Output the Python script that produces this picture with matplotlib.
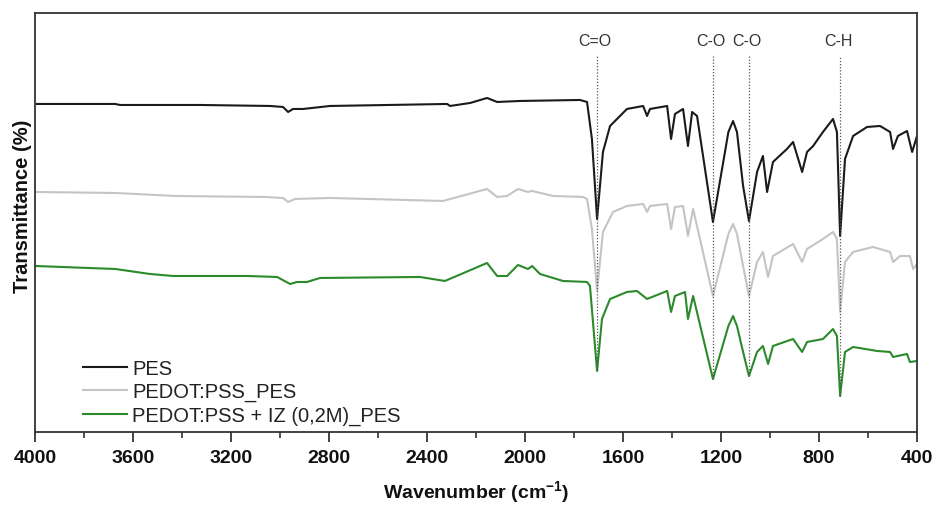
import numpy as np
import matplotlib
matplotlib.use("Agg")
import matplotlib.pyplot as plt

plt.rcParams["font.family"] = ["Liberation Sans", "DejaVu Sans"]
plt.rcParams["mathtext.fontset"] = "custom"
plt.rcParams["mathtext.rm"] = "Liberation Sans"
plt.rcParams["mathtext.bf"] = "Liberation Sans:bold"

# wavenumber (cm-1) and transmittance (arb. units, curves offset)
pes_wn = [4000, 3673, 3653, 3327, 3041, 2988, 2967, 2947, 2906, 2796, 2318, 2306, 2224, 2155, 2114,
          2020, 1776, 1747, 1727, 1706, 1682, 1653, 1584, 1518, 1502, 1490, 1420, 1404, 1388, 1355,
          1335, 1318, 1298, 1233, 1170, 1151, 1135, 1110, 1086, 1053, 1029, 1012, 988, 931, 906, 869,
          849, 824, 784, 743, 727, 714, 694, 661, 604, 551, 510, 498, 478, 441, 420, 400]
pes_t = [328, 328, 327, 327, 326, 325, 320, 323, 323, 326, 328, 326, 329, 334, 330,
         331, 332, 330, 293, 213, 280, 306, 323, 326, 316, 323, 326, 293, 318, 323,
         286, 320, 316, 210, 300, 311, 300, 246, 211, 260, 276, 240, 270, 283, 290, 260,
         280, 286, 300, 313, 300, 196, 273, 296, 305, 306, 300, 283, 296, 301, 280, 296]

pedot_wn = [4000, 3673, 3429, 3061, 2988, 2967, 2939, 2796, 2335, 2155, 2114, 2073, 2029, 1988, 1971,
            1886, 1763, 1747, 1727, 1706, 1682, 1641, 1584, 1518, 1502, 1490, 1420, 1404, 1388, 1355,
            1335, 1314, 1233, 1170, 1151, 1135, 1110, 1086, 1053, 1029, 1008, 988, 906, 869, 849, 784,
            743, 727, 714, 694, 661, 580, 510, 498, 469, 429, 416, 400]
pedot_t = [240, 239, 236, 235, 234, 230, 233, 234, 231, 243, 235, 236, 243, 240, 241,
           236, 235, 233, 203, 141, 200, 220, 226, 228, 220, 226, 228, 203, 225, 226,
           196, 223, 136, 198, 208, 198, 166, 136, 170, 180, 155, 176, 188, 170, 183, 193,
           200, 193, 120, 170, 180, 185, 180, 170, 176, 176, 163, 168]

iz_wn = [4000, 3673, 3531, 3437, 3135, 3012, 2959, 2931, 2890, 2837, 2429, 2327, 2155, 2114, 2073,
         2029, 1988, 1971, 1939, 1845, 1747, 1735, 1706, 1686, 1653, 1584, 1543, 1502, 1420, 1404,
         1388, 1347, 1335, 1314, 1233, 1170, 1151, 1135, 1110, 1086, 1053, 1029, 1008, 988, 906,
         869, 849, 784, 743, 727, 714, 694, 661, 563, 510, 498, 441, 429, 400]
iz_t = [166, 163, 158, 156, 156, 155, 148, 150, 150, 154, 155, 151, 169, 156, 156,
        167, 163, 166, 158, 151, 150, 146, 61, 113, 133, 140, 141, 133, 141, 120,
        136, 140, 113, 136, 53, 106, 116, 106, 80, 56, 80, 86, 68, 86, 93,
        80, 90, 93, 103, 96, 36, 80, 85, 81, 80, 75, 78, 70, 71]

peak_wn = [1708, 1232, 1085, 714]
peak_names = ["C=O", "C-O", "C-O", "C-H"]
peak_bottom = [62, 53, 56, 36]
peak_top = 376

fig = plt.figure(figsize=(9.37, 5.06), dpi=100)
ax = fig.add_axes([0.0374, 0.1443, 0.9413, 0.8281])

ax.plot(pes_wn, pes_t, color="#1a1a1a", lw=1.5, label="PES")
ax.plot(pedot_wn, pedot_t, color="#c4c4c4", lw=1.5, label="PEDOT:PSS_PES")
ax.plot(iz_wn, iz_t, color="#2b8a2b", lw=1.5, label="PEDOT:PSS + IZ (0,2M)_PES")

for wn, name, yb in zip(peak_wn, peak_names, peak_bottom):
    ax.vlines(wn, yb, peak_top, colors="#555555", linestyles=(0, (1, 1.5)), lw=0.9)
    ax.text(wn + 8, 391, name, ha="center", va="center", fontsize=11.5, color="#333333")

ax.set_xlim(4000, 400)
ax.set_ylim(0, 419)
ax.set_xticks(np.arange(4000, 399, -400))
ax.set_xticks(np.arange(3800, 399, -400), minor=True)
ax.set_yticks([])
ax.tick_params(axis="x", which="major", direction="out", length=7, width=1.3, pad=5,
               labelsize=14, colors="#333333", labelcolor="#111111")
ax.tick_params(axis="x", which="minor", direction="out", length=4, width=1.2, colors="#333333")
for lab in ax.get_xticklabels():
    lab.set_fontweight("bold")
for s in ax.spines.values():
    s.set_color("#333333")
    s.set_linewidth(1.3)

ax.set_xlabel(r"Wavenumber (cm$^{\mathbf{-1}}$)", fontsize=14, fontweight="bold", color="#111111")
ax.xaxis.set_label_coords(0.5, -0.11)
ax.set_ylabel("Transmittance (%)", fontsize=14.5, fontweight="bold", color="#111111")
ax.yaxis.set_label_coords(-0.003, 0.54)

leg = ax.legend(loc="upper left", bbox_to_anchor=(0.054, 0.175), frameon=False, fontsize=14.5,
                handlelength=2.2, handletextpad=0.25, labelspacing=0.22, borderpad=0, borderaxespad=0)
for t in leg.get_texts():
    t.set_color("#222222")

fig.savefig("out.png", dpi=100)
